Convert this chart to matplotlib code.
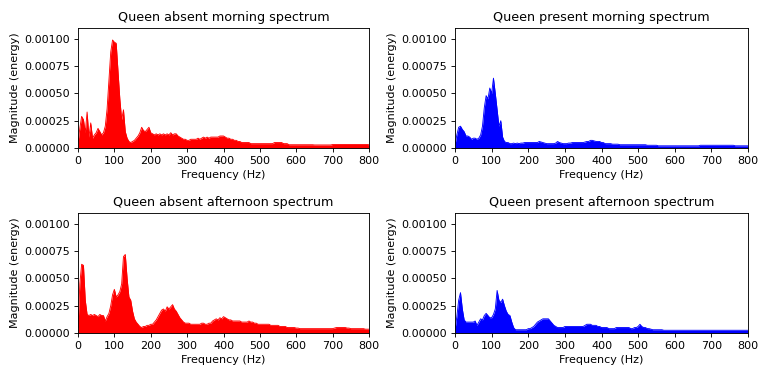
import numpy as np
import matplotlib
matplotlib.use("Agg")
import matplotlib.pyplot as plt

# Frequencies sampled every 5 Hz (0..800): 161 points
freq_hz = np.arange(0, 805, 5)

# Magnitudes in units of 1e-5 (energy).
# Each row covers 50 Hz (10 samples); the last single value is 800 Hz.
absent_morning_e5 = [
    5, 18, 29, 26, 14, 33, 10, 23, 9, 12,
    14, 18, 15, 12, 14, 20, 36, 62, 88, 99,
    97, 96, 70, 45, 26, 35, 15, 9, 6, 5,
    6, 7, 9, 11, 14, 19, 16, 15, 17, 19,
    14, 13, 12, 13, 12, 13, 12, 13, 12, 13,
    12, 14, 12, 13, 13, 11, 10, 9, 8, 8,
    7, 7, 8, 8, 8, 8, 9, 8, 9, 10,
    9, 10, 9, 10, 10, 10, 10, 10, 11, 11,
    11, 10, 9, 9, 8, 8, 7, 7, 6, 6,
    5, 5, 5, 5, 5, 4, 4, 4, 4, 4,
    4, 4, 4, 4, 4, 4, 4, 4, 5, 5,
    5, 5, 5, 4, 4, 4, 3, 3, 3, 3,
    3, 3, 3, 3, 3, 3, 3, 3, 3, 3,
    2.8, 2.8, 2.8, 2.8, 2.8, 2.8, 2.8, 2.8, 2.8, 2.8,
    3.2, 3.2, 3.2, 3.2, 3.2, 3.2, 3.2, 3.2, 3.2, 3.2,
    3.2, 3.2, 3.2, 3.2, 3.2, 3.2, 3.2, 3.2, 3.2, 3.2,
    3,
]
present_morning_e5 = [
    3, 12, 19, 20, 17, 15, 11, 11, 10, 8,
    9, 9, 8, 9, 12, 20, 37, 48, 45, 55,
    50, 64, 50, 35, 20, 25, 10, 6, 5, 5,
    4, 4, 4.5, 4, 4.5, 4, 4.5, 4.5, 5, 5,
    5, 5, 5, 5, 5, 5, 6, 5.5, 5, 4.5,
    4, 4, 4, 4, 4, 4.5, 6, 5, 4.5, 4,
    4, 4, 4.5, 4.5, 5, 5, 5, 5, 5, 5,
    5, 5.5, 6, 6, 7, 7, 6.5, 6, 6, 6,
    5, 5, 4, 4, 4, 4, 3.5, 3.5, 3.5, 3.5,
    3, 3, 3, 3, 3, 3, 3, 3, 3, 3,
    3, 3, 3, 3, 3, 2.5, 2.5, 2.5, 2.5, 2.5,
    2.5, 2, 2, 2, 2, 2, 2, 2, 2, 2,
    2, 2, 2, 2, 2, 2, 2, 2, 2, 2,
    2, 2, 2, 2, 2.5, 2.5, 2.5, 2.5, 2.5, 2.5,
    2.5, 2.5, 2.5, 2.5, 2.5, 2.5, 2.5, 2.5, 2.5, 2.5,
    2.5, 2.5, 2.5, 2, 2, 2, 2, 2, 2, 2,
    2,
]
absent_afternoon_e5 = [
    5, 45, 63, 62, 30, 17, 16, 17, 16, 17,
    16, 15, 17, 16, 16, 11, 15, 18, 25, 35,
    40, 33, 35, 38, 45, 70, 72, 50, 33, 30,
    20, 13, 10, 8, 6, 5, 6, 6, 7, 7,
    8, 8, 10, 12, 15, 18, 21, 22, 20, 24,
    22, 24, 26, 22, 20, 17, 14, 12, 10, 9,
    9, 9, 8, 8, 8, 8, 8, 8, 9, 9,
    8, 8, 9, 9, 11, 12, 13, 12, 14, 13,
    15, 14, 13, 12, 12, 11, 11, 11, 11, 11,
    10, 10, 10, 10, 11, 10, 10, 9, 9, 8,
    8, 8, 8, 8, 8, 8, 7, 7, 7, 7,
    7, 6, 6, 6, 6, 5, 5, 5, 5, 5,
    4.5, 4.5, 4, 4, 4, 4, 4, 4, 4, 4,
    4, 4, 4, 4, 4, 4, 4, 4, 4, 4,
    4, 4.5, 5, 5, 5, 5, 5, 5, 4.5, 4.5,
    4, 4, 4, 4, 4, 4, 4, 4, 3.5, 3.5,
    3.5,
]
present_afternoon_e5 = [
    3, 15, 30, 37, 22, 12, 10, 10, 10, 10,
    10, 11, 7, 10, 13, 12, 16, 18, 16, 14,
    14, 17, 22, 39, 30, 28, 31, 25, 20, 17,
    16, 10, 5, 3, 3, 3, 3, 3, 3, 3,
    4, 4, 5, 6, 8, 10, 11, 12, 13, 13,
    13, 13, 11, 9, 7, 6, 5, 5, 5, 5,
    6, 6, 6, 6, 6, 6, 6, 6, 6, 6,
    6, 7, 8, 8, 8, 7, 7, 7, 6, 6,
    5, 5, 5, 5, 4, 4, 4, 4, 5, 5,
    5, 5, 5, 5, 5, 5, 4, 4, 5, 5,
    6, 8, 6, 5, 5, 4, 4, 3.5, 3, 3,
    3, 3, 3, 3, 2.5, 2.5, 2.5, 2.5, 2.5, 2.5,
    2.5, 2.5, 2.5, 2.5, 2.5, 2.5, 2.5, 2.5, 2.5, 2.5,
    2.5, 2.5, 2.5, 2.5, 2.5, 2.5, 2.5, 2.5, 2.5, 2.5,
    2.5, 2.5, 2.5, 2.5, 2.5, 2.5, 2.5, 2.5, 2.5, 2.5,
    2.5, 2.5, 2.5, 2.5, 2.5, 2.5, 2.5, 2.5, 2.5, 2.5,
    2.5,
]

titles = [
    "Queen absent morning spectrum",
    "Queen present morning spectrum",
    "Queen absent afternoon spectrum",
    "Queen present afternoon spectrum",
]
series = [absent_morning_e5, present_morning_e5, absent_afternoon_e5, present_afternoon_e5]
colors = ["red", "blue", "red", "blue"]

W, H = 759, 365
fig = plt.figure(figsize=(W / 80, H / 80), dpi=80)

boxes = [
    (78, 28, 369, 148),
    (455, 28, 748, 148),
    (78, 213, 369, 333),
    (455, 213, 748, 333),
]

for (x0, y0, x1, y1), title, vals, col in zip(boxes, titles, series, colors):
    ax = fig.add_axes([x0 / W, 1 - y1 / H, (x1 - x0) / W, (y1 - y0) / H])
    v = np.asarray(vals, dtype=float) * 1e-5
    ax.fill_between(freq_hz, 0, v, color=col, linewidth=0)
    ax.plot(freq_hz, v, color=col, linewidth=0.8)
    ax.set_xlim(0, 800)
    ax.set_ylim(0, 0.0011)
    ax.set_yticks([0, 0.00025, 0.0005, 0.00075, 0.001])
    ax.set_yticklabels(["0.00000", "0.00025", "0.00050", "0.00075", "0.00100"])
    ax.set_xticks(range(0, 801, 100))
    ax.set_title(title, fontsize=11.5)
    ax.set_xlabel("Frequency (Hz)")
    ax.set_ylabel("Magnitude (energy)")

fig.savefig("out.png", dpi=80)
